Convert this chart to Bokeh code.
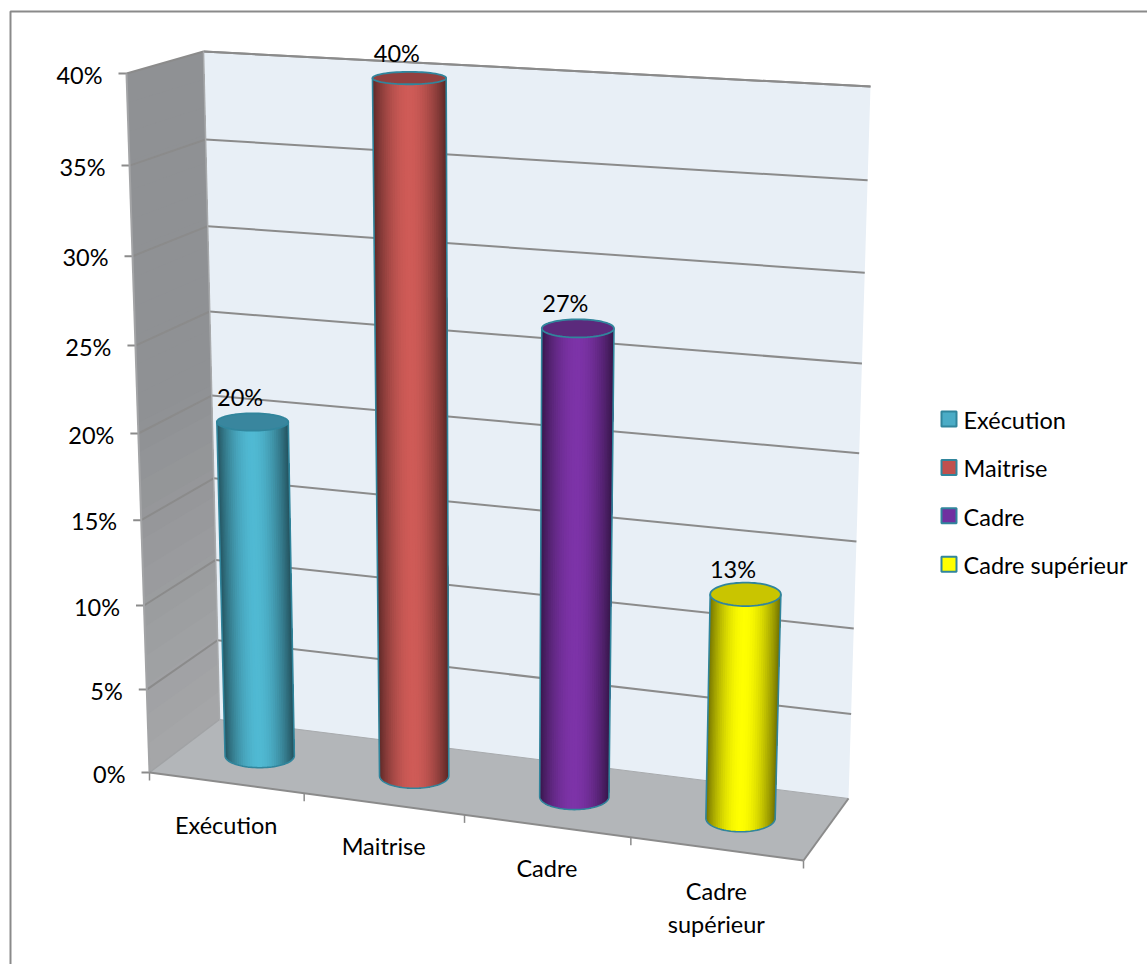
from bokeh.plotting import figure
from bokeh.embed import file_html
from bokeh.resources import INLINE
from bokeh.core.properties import value
import math

# Chart data
categories = ["Exécution", "Maitrise", "Cadre", "Cadre supérieur"]
shares = [20, 40, 27, 13]
share_labels = ["20%", "40%", "27%", "13%"]
axis_ticks = [0, 5, 10, 15, 20, 25, 30, 35, 40]
axis_labels = ["0%", "5%", "10%", "15%", "20%", "25%", "30%", "35%", "40%"]
axis_max = 40

# Series colours: brightest side colour, cap colour, swatch fill
side_colors = ["#50b9d3", "#cf5b57", "#7d33a8", "#ffff00"]
cap_colors = ["#39869e", "#93403f", "#5b2a7c", "#c9c500"]
swatch_colors = ["#4bacc6", "#c0504d", "#7030a0", "#ffff00"]
rim_color = "#31859c"

FONT = value("Lato")
TEXT_SIZE = "23.5px"
GRID = "#8b8b8b"

# The eight corners of the plot box, as (x, y) on the page
FLB, FLT = (149, 772), (126, 73)
BLB, BLT = (219, 719), (203, 51)
BRB, BRT = (848, 798), (870, 86)
FRB, FRT = (803, 860), (824, 125)

K_U, K_V = 0.076, 0.062


def warp_u(u):
    return u / (1 + K_U * (1 - u))


def warp_v(v):
    return v / (1 + K_V * (1 - v))


def lerp(a, b, t):
    return a + (b - a) * t


def project(u, v, w):
    """Trilinear box mapping; u across (warped), v up (warped), w into the depth."""
    out = []
    for i in (0, 1):
        fl = lerp(FLB[i], FLT[i], v)
        bl = lerp(BLB[i], BLT[i], v)
        fr = lerp(FRB[i], FRT[i], v)
        br = lerp(BRB[i], BRT[i], v)
        out.append(lerp(lerp(fl, fr, u), lerp(bl, br, u), w))
    return out


def shade(hex_color, f):
    r, g, b = (int(hex_color[i:i + 2], 16) for i in (1, 3, 5))
    return "#%02x%02x%02x" % (round(r * f), round(g * f), round(b * f))


def mix(c1, c2, t):
    a = [int(c1[i:i + 2], 16) for i in (1, 3, 5)]
    b = [int(c2[i:i + 2], 16) for i in (1, 3, 5)]
    return "#%02x%02x%02x" % tuple(round(lerp(x, y, t)) for x, y in zip(a, b))


p = figure(width=1147, height=964, x_range=(0, 1147), y_range=(964, 0),
           output_backend="svg", toolbar_location=None, min_border=0,
           background_fill_color="white", border_fill_color="white",
           outline_line_color=None)
p.axis.visible = False
p.grid.visible = False


def poly(pts, fill, line=None, width=0.0):
    p.patch([q[0] for q in pts], [q[1] for q in pts], fill_color=fill,
            line_color=line, line_width=width)


def seg(a, b, color=GRID, width=2.0):
    p.line([a[0], b[0]], [a[1], b[1]], line_color=color, line_width=width)


def label(x, y, text, align="center"):
    p.text([x], [y], text=[text], text_font=FONT, text_font_size=TEXT_SIZE,
           text_color="#000000", text_align=align, text_baseline="middle")


# Page frame
p.line([10, 10, 1147], [964, 11, 11], line_color="#8a8a8a", line_width=2)

# Back wall
poly([BLT, BRT, BRB, BLB], "#e8eff6")

# Side wall shaded from bottom to top; each band runs on to the top so no seams show
STEPS = 24
for s in range(STEPS):
    v0 = s / STEPS
    poly([project(0, v0, 0), project(0, 1, 0), project(0, 1, 1), project(0, v0, 1)],
         mix("#a6a7a9", "#8f9194", min(1.0, (v0 + 0.5 / STEPS) / 0.5)))

# Floor
poly([FLB, FRB, BRB, BLB], "#b3b6b9")

# Gridlines and value ticks
for t, lab in zip(axis_ticks, axis_labels):
    v = warp_v(t / axis_max)
    front = project(0, v, 0)
    if t > 0:
        seg(project(0, v, 1), project(1, v, 1))
        seg(front, project(0, v, 1))
    seg(front, (front[0] - 8, front[1]))
    label(front[0] - 24, front[1] + 1, lab, "right")

# Box edges
seg(BLT, BRT)
seg(FLT, FLB, "#a3a4a6", 2)
seg(BLT, BLB, "#a8aaac", 1.5)
seg(FLB, BLB, "#a0a2a4", 1.5)
seg(BLB, BRB, "#a8abae", 1)
seg(FLB, FRB)
seg(FRB, BRB)

# Category ticks along the front edge
for i in range(len(categories) + 1):
    a = project(warp_u(i / len(categories)), 0, 0)
    seg(a, (a[0], a[1] + 8), GRID, 1.5)

# Cylinders
RU, RW = 0.054, 0.22


def ellipse_at(uc, v):
    """Centre and half axes of the horizontal disc of a cylinder at height v."""
    cx, cy = project(uc, v, 0.5)
    a = (project(uc + RU, v, 0.5)[0] - project(uc - RU, v, 0.5)[0]) / 2
    b = (project(uc, v, 0.5 - RW)[1] - project(uc, v, 0.5 + RW)[1]) / 2
    return cx, cy, a, b


def on_ellipse(e, th):
    return (e[0] - e[2] * math.cos(th), e[1] + e[3] * math.sin(th))


for i, val in enumerate(shares):
    uc = warp_u((i + 0.5) / len(categories))
    vt = warp_v(val / axis_max)
    top = ellipse_at(uc, vt)
    base = ellipse_at(uc, 0)
    N = 44
    angles = [math.pi * k / N for k in range(N + 1)]
    # Each slice reaches to the right-hand edge, and the next one paints over it
    for k in range(N):
        t = (1 - math.cos((angles[k] + angles[k + 1]) / 2)) / 2
        f = 0.44 + 0.56 * min(1.0, math.sin(math.pi * t) ** 0.85)
        if t > 0.5:
            f *= 1 - 0.10 * (t - 0.5)
        rest = angles[k:]
        lower = [on_ellipse(base, th) for th in rest]
        upper = [on_ellipse(top, th) for th in reversed(rest)]
        poly(lower + upper, shade(side_colors[i], f))

    M = 72
    cap = [on_ellipse(top, 2 * math.pi * k / M) for k in range(M)]
    poly(cap, cap_colors[i], rim_color, 1.8)

    # Silhouette and lower rim
    lower = [on_ellipse(base, th) for th in angles]
    outline = [on_ellipse(top, 0)] + lower + [on_ellipse(top, math.pi)]
    p.line([q[0] for q in outline], [q[1] for q in outline], line_color=rim_color, line_width=1.6)

    # Share label just above the cap
    label(top[0] - 12.5, top[1] - 25, share_labels[i])

# Category labels below the front edge
for i, name in enumerate(categories):
    a = project(warp_u((i + 0.5) / len(categories)), 0, 0)
    for j, part in enumerate(name.split(" ")):
        label(a[0], a[1] + 42 + 33 * j, part)

# Legend
for i, name in enumerate(categories):
    y = 418.5 + 48.4 * i
    p.rect([948.5], [y], width=15, height=15, fill_color=swatch_colors[i],
           line_color=rim_color, line_width=2)
    label(963, y + 1, name, "left")

with open("out.html", "w") as fh:
    fh.write(file_html(p, INLINE))
